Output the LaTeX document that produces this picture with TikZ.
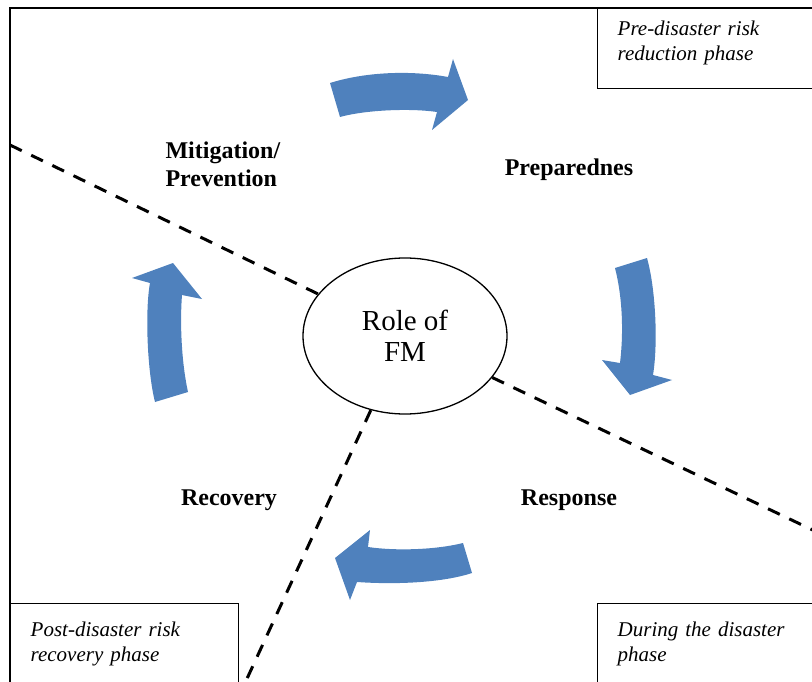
\documentclass[tikz,border=0pt]{standalone}
\usepackage{fontspec}
\setmainfont{Liberation Serif}
\usetikzlibrary{shapes.geometric}
\definecolor{cycleblue}{HTML}{4F81BD}

\begin{document}
\begin{tikzpicture}[
    x=1pt, y=-1pt,
    phasebox/.style={
        draw,
        line width=1.4pt,
        anchor=north west,
        align=left,
        inner xsep=20pt,
        font=\fontsize{21}{25}\selectfont\itshape
    },
    stage/.style={font=\fontsize{24}{28}\selectfont\bfseries},
    divider/.style={line width=3pt, dash pattern=on 13pt off 10.5pt},
    cyclearrow/.style={fill=cycleblue, draw=none}
]
\useasboundingbox (0,0) rectangle (812,682);
\clip (0,0) rectangle (812,682);

% outer frame
\draw[line width=1.6pt] (10,8) rectangle (840,700);

% phase boxes
\begin{scope}
\clip (0,8) rectangle (812,682);
\node[phasebox, text width=200pt, minimum height=92pt] (pre) at (597,-4) {Pre-disaster risk\\reduction phase};
\end{scope}
\node[phasebox, text width=188pt, minimum height=81pt] (post) at (10,603) {Post-disaster risk\\recovery phase};
\node[phasebox, text width=200pt, minimum height=81pt] (during) at (597,603) {During the disaster\\phase};

% centre
\node[ellipse, draw, line width=1.3pt, minimum width=204pt, minimum height=156pt, align=center,
      font=\fontsize{29}{35}\selectfont] (fm) at (405,336) {\raisebox{-4pt}{Role of}\\FM};

\coordinate (mitEnd) at (10,145);
\coordinate (resEnd) at (840,543);
\coordinate (recEnd) at (239,696);
\draw[divider] (mitEnd) -- (fm);
\draw[divider] (fm) -- (resEnd);
\draw[divider] (fm) -- (recEnd);

% stages
\node[stage, align=left, anchor=west] (mit) at (162,164) {Mitigation/\\Prevention};
\node[stage] (prep) at (569,170) {Preparednes};
\node[stage] (resp) at (569,500) {Response};
\node[stage] (rec) at (229,500) {Recovery};

% cycle arrows
\fill[cyclearrow] (330,83) .. controls (365,72) and (410,70) .. (448,77) -- (453,59) -- (468,100)
    -- (432,130) -- (437,112) .. controls (410,108) and (365,110) .. (340,117) -- cycle;
\fill[cyclearrow] (615,268) -- (647,258) .. controls (656,290) and (658,345) .. (653,375) -- (672,380)
    -- (630,395) -- (602,360) -- (620,363) .. controls (624,330) and (622,295) .. (615,268) -- cycle;
\fill[cyclearrow] (463,543) -- (472,573) .. controls (445,582) and (400,585) .. (357,582) -- (350,600)
    -- (335,558) -- (370,530) -- (368,547) .. controls (395,551) and (435,550) .. (463,543) -- cycle;
\fill[cyclearrow] (155,402) -- (188,392) .. controls (181,360) and (180,320) .. (182,295) -- (202,299)
    -- (173,263) -- (132,278) -- (150,283) .. controls (145,310) and (147,370) .. (155,402) -- cycle;
\end{tikzpicture}
\end{document}
